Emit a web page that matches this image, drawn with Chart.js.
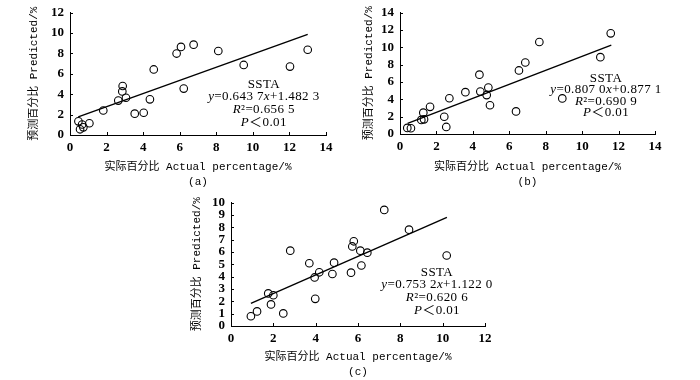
<!DOCTYPE html>
<html>
<head>
<meta charset="utf-8">
<script src="https://cdn.jsdelivr.net/npm/chart.js@4.4.1/dist/chart.umd.min.js"></script>
<style>
  html, body { margin: 0; padding: 0; background: #fff; }
  #page { position: relative; width: 700px; height: 380px; overflow: hidden; }
  canvas { position: absolute; }
</style>
</head>
<body>
<div id="page">
  <canvas id="chartA" width="350" height="190" style="left:0;top:0"></canvas>
  <canvas id="chartB" width="350" height="190" style="left:350px;top:0"></canvas>
  <canvas id="chartC" width="320" height="190" style="left:180px;top:190px"></canvas>
</div>
<script>
// Actual vs predicted percentage, three panels (a), (b), (c)

// panel (a)
const actualA    = [0.46, 0.66, 0.55, 0.73, 1.06, 1.82, 2.64, 2.86, 2.88, 3.06, 3.54, 4.03, 4.37, 4.58, 5.83, 6.07, 6.22, 6.76, 8.11, 9.5, 12.03, 13.0];
const predictedA = [1.34, 1.03, 0.56, 0.75, 1.15, 2.4, 3.37, 4.27, 4.8, 3.65, 2.09, 2.18, 3.49, 6.42, 7.98, 8.63, 4.55, 8.85, 8.23, 6.86, 6.7, 8.35];
const fitXA = [0.45, 13.0];
const fitYA = [1.77, 9.85];
const statA = ["SSTA", "y=0.643 7x+1.482 3", "R²=0.656 5", "P＜0.01"];

// panel (b)
const actualB    = [0.40, 0.60, 1.17, 1.32, 1.28, 1.65, 2.43, 2.54, 2.71, 3.59, 4.36, 4.41, 4.76, 4.85, 4.94, 6.37, 6.53, 6.88, 7.65, 8.91, 11.0, 11.57];
const predictedB = [0.70, 0.66, 1.62, 1.69, 2.46, 3.13, 1.99, 0.81, 4.12, 4.82, 6.84, 4.89, 4.48, 5.35, 3.31, 2.6, 7.32, 8.24, 10.6, 4.1, 8.85, 11.6];
const fitXB = [0.42, 11.6];
const fitYB = [1.22, 10.24];
const statB = ["SSTA", "y=0.807 0x+0.877 1", "R²=0.690 9", "P＜0.01"];

// panel (c)
const actualC    = [0.94, 1.23, 1.76, 2.0, 1.89, 2.47, 2.80, 3.70, 3.95, 3.98, 4.17, 4.79, 4.87, 5.67, 5.73, 5.80, 6.11, 6.16, 6.44, 7.24, 8.41, 10.19];
const predictedC = [0.79, 1.18, 2.64, 2.49, 1.75, 1.02, 6.10, 5.08, 3.93, 2.20, 4.35, 4.21, 5.13, 4.32, 6.44, 6.86, 6.10, 4.90, 5.94, 9.40, 7.80, 5.71];
const fitXC = [0.94, 10.2];
const fitYC = [1.83, 8.80];
const statC = ["SSTA", "y=0.753 2x+1.122 0", "R²=0.620 6", "P＜0.01"];

const xTitle = ["实际百分比 Actual percentage/%"];
const yTitle = "预测百分比 Predicted/%";

const titleFamily = "'Liberation Mono', 'Noto Sans CJK SC', monospace";
const numFamily = "'Liberation Serif', 'Noto Sans CJK SC', serif";

function pairs(xs, ys) {
    return xs.map((x, i) => ({ x: x, y: ys[i] }));
}

// inward tick marks plus the centred regression text block
const marksAndText = {
    id: "marksAndText",
    afterDraw(chart) {
        const ctx = chart.ctx;
        const area = chart.chartArea;
        const xs = chart.scales.x, ys = chart.scales.y;
        ctx.save();
        ctx.strokeStyle = "#000";
        ctx.lineWidth = 1;
        ctx.beginPath();
        xs.ticks.forEach((t, i) => {
            const p = Math.round(xs.getPixelForTick(i)) + 0.5;
            ctx.moveTo(p, area.bottom);
            ctx.lineTo(p, area.bottom - 3);
        });
        ys.ticks.forEach((t, i) => {
            const p = Math.round(ys.getPixelForTick(i)) + 0.5;
            ctx.moveTo(area.left, p);
            ctx.lineTo(area.left + 3, p);
        });
        ctx.stroke();

        const st = chart.options.plugins.statText;
        const cx = xs.getPixelForValue(st.x);
        let cy = ys.getPixelForValue(st.y);
        ctx.fillStyle = "#000";
        ctx.textBaseline = "middle";
        ctx.textAlign = "left";
        if ("letterSpacing" in ctx) ctx.letterSpacing = "0.4px";
        st.lines.forEach(line => {
            const parts = [];
            for (const ch of line) {
                const it = "yxRP".includes(ch);
                if (parts.length && parts[parts.length - 1].it === it) parts[parts.length - 1].s += ch;
                else parts.push({ s: ch, it: it });
            }
            let w = 0;
            parts.forEach(p => {
                ctx.font = (p.it ? "italic " : "") + "13px " + numFamily;
                p.w = ctx.measureText(p.s).width;
                w += p.w;
            });
            let x = cx - w / 2;
            parts.forEach(p => {
                ctx.font = (p.it ? "italic " : "") + "13px " + numFamily;
                ctx.fillText(p.s, x, cy);
                x += p.w;
            });
            cy += st.gap;
        });
        ctx.restore();
    }
};

function makeChart(id, cfg) {
    return new Chart(document.getElementById(id), {
        type: "scatter",
        data: {
            datasets: [
                {
                    data: pairs(cfg.ax, cfg.pr),
                    pointRadius: 3.8,
                    pointBorderWidth: 1.1,
                    pointBorderColor: "#000",
                    pointBackgroundColor: "rgba(0,0,0,0)",
                    pointHoverRadius: 3.8
                },
                {
                    data: pairs(cfg.fx, cfg.fy),
                    showLine: true,
                    borderColor: "#000",
                    borderWidth: 1.4,
                    pointRadius: 0
                }
            ]
        },
        options: {
            responsive: false,
            animation: false,
            layout: { padding: cfg.pad },
            plugins: {
                legend: { display: false },
                tooltip: { enabled: false },
                statText: { lines: cfg.stat, x: cfg.sx, y: cfg.sy, gap: cfg.gap }
            },
            scales: {
                x: {
                    type: "linear",
                    min: 0, max: cfg.xmax,
                    afterFit: s => { s.height = cfg.xh; },
                    grid: { display: false, drawTicks: false },
                    border: { display: true, color: "#000", width: 1 },
                    ticks: { stepSize: 2, autoSkip: false, maxRotation: 0, padding: 5, color: "#000", font: { family: numFamily, size: 13, weight: "bold" } },
                    title: {
                        display: true,
                        text: xTitle.concat([cfg.tag]),
                        color: "#000",
                        padding: { top: 0, bottom: 0 },
                        font: { family: titleFamily, size: 11, lineHeight: "15px" }
                    }
                },
                y: {
                    type: "linear",
                    min: 0, max: cfg.ymax,
                    afterFit: s => { s.width = cfg.yw; },
                    grid: { display: false, drawTicks: false },
                    border: { display: true, color: "#000", width: 1 },
                    ticks: { stepSize: cfg.ystep, autoSkip: false, padding: 6, color: "#000", font: { family: numFamily, size: 13, weight: "bold", lineHeight: 1 } },
                    title: {
                        display: true,
                        text: yTitle,
                        color: "#000",
                        padding: { top: cfg.ytp, bottom: 0 },
                        font: { family: titleFamily, size: 11 }
                    }
                }
            }
        },
        plugins: [marksAndText]
    });
}

makeChart("chartA", {
    ax: actualA, pr: predictedA, fx: fitXA, fy: fitYA, stat: statA,
    sx: 10.6, sy: 4.97, gap: 12.8, tag: "(a)",
    xmax: 14, ymax: 12, ystep: 2,
    pad: { left: 0, top: 7, right: 24, bottom: 0 }, xh: 55, yw: 70, ytp: 27
});

makeChart("chartB", {
    ax: actualB, pr: predictedB, fx: fitXB, fy: fitYB, stat: statB,
    sx: 11.31, sy: 6.4, gap: 11.4, tag: "(b)",
    xmax: 14, ymax: 14, ystep: 2,
    pad: { left: 0, top: 7, right: 45, bottom: 0 }, xh: 56, yw: 50, ytp: 12
});

makeChart("chartC", {
    ax: actualC, pr: predictedC, fx: fitXC, fy: fitYC, stat: statC,
    sx: 9.73, sy: 4.36, gap: 12.7, tag: "(c)",
    xmax: 12, ymax: 10, ystep: 1,
    pad: { left: 0, top: 8, right: 15, bottom: 0 }, xh: 54, yw: 51, ytp: 10
});
</script>
</body>
</html>
